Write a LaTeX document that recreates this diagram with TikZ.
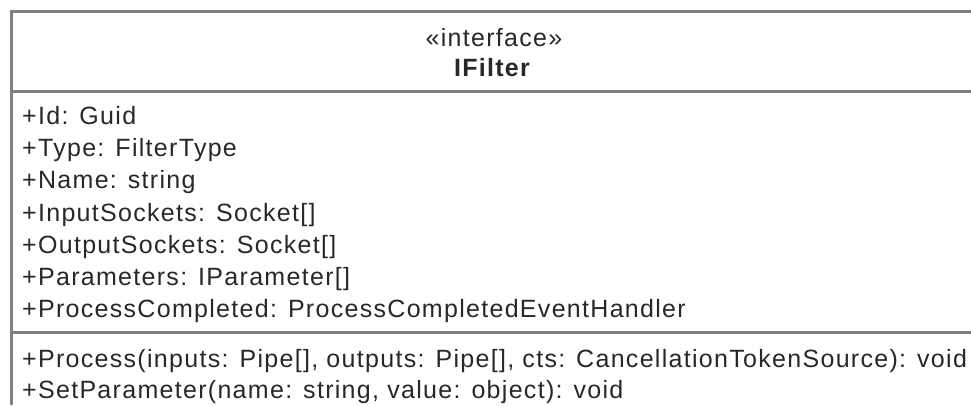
\documentclass[tikz,border=0pt]{standalone}
\usepackage{fontspec}
\setmainfont{Liberation Sans}[LetterSpace=5.2]
\definecolor{umlline}{RGB}{128,128,128}
\definecolor{umltext}{RGB}{40,40,40}
\begin{document}
\begin{tikzpicture}[x=1pt, y=-1pt,
  frame/.style={draw=umlline, line width=3pt},
  member/.style={anchor=base west, inner sep=0pt, text=umltext,
    font=\fontsize{25}{31}\selectfont},
  heading/.style={anchor=base, inner sep=0pt, text=umltext,
    font=\fontsize{25}{31}\selectfont}]
\useasboundingbox (0,0) rectangle (971,405);

% class frame: left edge, top edge and compartment separators
\draw[frame] (11.5,405) -- (11.5,11) -- (971,11);
\draw[frame] (11.5,91.5) -- (971,91.5);
\draw[frame] (11.5,332.5) -- (971,332.5);

% name compartment
\node[heading] (stereo) at (494,46) {«interface»};
\node[heading, font=\fontsize{25}{31}\selectfont\bfseries] (cname) at (492,76) {IFilter};

% attributes
\node[member] (a1) at (22,124) {+Id: Guid};
\node[member] (a2) at (22,156) {+Type: FilterType};
\node[member] (a3) at (22,188) {+Name: string};
\node[member] (a4) at (22,221) {+InputSockets: Socket[]};
\node[member] (a5) at (22,253) {+OutputSockets: Socket[]};
\node[member] (a6) at (22,285) {+Parameters: IParameter[]};
\node[member] (a7) at (22,317) {+ProcessCompleted: ProcessCompletedEventHandler};

% operations
\node[member] (o1) at (22,367) {+Process(inputs: Pipe[], outputs: Pipe[], cts: CancellationTokenSource): void};
\node[member] (o2) at (22,398) {+SetParameter(name: string, value: object): void};
\end{tikzpicture}
\end{document}
